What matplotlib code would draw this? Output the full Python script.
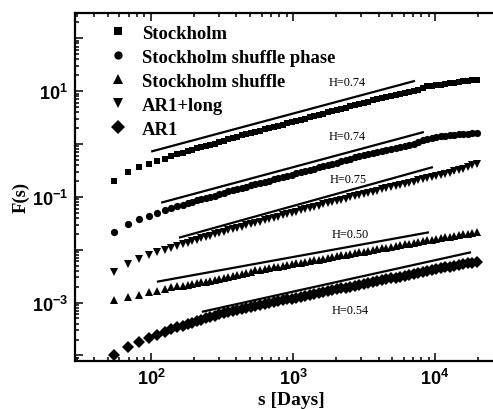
import matplotlib
matplotlib.use("Agg")
import matplotlib.pyplot as plt
from matplotlib.ticker import LogLocator, FuncFormatter, NullFormatter
import numpy as np

# ==== data ====
s_days = [55, 69, 83, 97, 111, 125, 139, 153, 167, 181,
          195, 210, 226, 243, 261, 281, 303, 326, 350, 377,
          406, 437, 470, 505, 544, 585, 630, 678, 729, 785,
          844, 908, 977, 1052, 1131, 1217, 1310, 1410, 1517, 1632,
          1756, 1889, 2033, 2187, 2354, 2532, 2725, 2932, 3155, 3394,
          3652, 3930, 4229, 4550, 4896, 5268, 5668, 6099, 6563, 7061,
          7598, 8175, 8797, 9465, 10185, 10959, 11792, 12688, 13652, 14690,
          15806, 17007, 18300, 19690]

f_stockholm = [0.197, 0.291, 0.362, 0.413, 0.471, 0.525, 0.586, 0.640, 0.682, 0.729,
               0.778, 0.830, 0.887, 0.927, 0.968, 1.012, 1.079, 1.153, 1.230, 1.312,
               1.371, 1.466, 1.531, 1.600, 1.706, 1.782, 1.905, 1.991, 2.080, 2.218,
               2.317, 2.472, 2.582, 2.761, 2.884, 3.013, 3.214, 3.357, 3.589, 3.741,
               3.999, 4.178, 4.365, 4.656, 4.864, 5.200, 5.433, 5.794, 6.053, 6.324,
               6.745, 7.047, 7.362, 7.691, 8.035, 8.395, 8.770, 9.162, 9.572, 10.0,
               10.45, 11.40, 12.45, 12.71, 13.00, 13.27, 13.87, 14.19, 14.49, 14.83,
               15.49, 15.81, 16.18, 16.52]

f_shuffle_phase = [0.0212, 0.0301, 0.0374, 0.0427, 0.0486, 0.0555, 0.0605, 0.0661, 0.0690, 0.0753,
                   0.0804, 0.0859, 0.0897, 0.0938, 0.100, 0.1045, 0.1114, 0.1191, 0.1271, 0.1327,
                   0.1419, 0.1483, 0.1549, 0.1652, 0.1726, 0.1803, 0.1923, 0.2009, 0.2148, 0.2244,
                   0.2344, 0.2500, 0.2612, 0.2786, 0.2911, 0.3041, 0.3251, 0.3396, 0.3622, 0.3784,
                   0.3954, 0.4130, 0.4416, 0.4710, 0.4920, 0.5248, 0.5610, 0.5861, 0.6124, 0.6397,
                   0.6823, 0.7129, 0.7447, 0.7780, 0.8128, 0.8492, 0.8872, 0.9268, 0.9683, 1.012,
                   1.104, 1.205, 1.259, 1.312, 1.343, 1.403, 1.432, 1.466, 1.496, 1.531,
                   1.531, 1.563, 1.600, 1.600]

f_shuffle = [1.140e-3, 1.271e-3, 1.419e-3, 1.581e-3, 1.687e-3, 1.841e-3, 1.968e-3, 2.056e-3, 2.099e-3, 2.193e-3,
             2.291e-3, 2.393e-3, 2.449e-3, 2.500e-3, 2.612e-3, 2.673e-3, 2.786e-3, 2.911e-3, 3.041e-3, 3.177e-3,
             3.319e-3, 3.467e-3, 3.622e-3, 3.873e-3, 4.046e-3, 4.130e-3, 4.315e-3, 4.508e-3, 4.613e-3, 4.808e-3,
             5.023e-3, 5.140e-3, 5.370e-3, 5.610e-3, 5.728e-3, 5.984e-3, 6.124e-3, 6.397e-3, 6.531e-3, 6.823e-3,
             6.982e-3, 7.295e-3, 7.447e-3, 7.780e-3, 7.962e-3, 8.128e-3, 8.492e-3, 8.872e-3, 9.057e-3, 9.462e-3,
             9.683e-3, 1.012e-2, 1.057e-2, 1.079e-2, 1.127e-2, 1.153e-2, 1.205e-2, 1.259e-2, 1.285e-2, 1.343e-2,
             1.371e-2, 1.432e-2, 1.496e-2, 1.531e-2, 1.600e-2, 1.633e-2, 1.706e-2, 1.746e-2, 1.824e-2, 1.862e-2,
             1.945e-2, 1.991e-2, 2.080e-2, 2.123e-2]

f_ar1_long = [3.873e-3, 5.483e-3, 6.683e-3, 7.943e-3, 8.872e-3, 9.886e-3, 1.079e-2, 1.153e-2, 1.259e-2, 1.343e-2,
              1.432e-2, 1.531e-2, 1.633e-2, 1.706e-2, 1.824e-2, 1.945e-2, 2.032e-2, 2.168e-2, 2.317e-2, 2.421e-2,
              2.582e-2, 2.698e-2, 2.884e-2, 3.013e-2, 3.214e-2, 3.357e-2, 3.589e-2, 3.741e-2, 3.999e-2, 4.178e-2,
              4.457e-2, 4.656e-2, 4.977e-2, 5.200e-2, 5.546e-2, 5.794e-2, 6.180e-2, 6.457e-2, 6.745e-2, 7.211e-2,
              7.534e-2, 7.870e-2, 8.395e-2, 8.770e-2, 9.162e-2, 9.795e-2, 0.1021, 0.1067, 0.1140, 0.1191,
              0.1245, 0.1300, 0.1387, 0.1449, 0.1514, 0.1581, 0.1687, 0.1762, 0.1841, 0.1923,
              0.2056, 0.2148, 0.2244, 0.2344, 0.2500, 0.2612, 0.2729, 0.2851, 0.3041, 0.3177,
              0.3319, 0.3622, 0.3954, 0.4227]

f_ar1 = [1.033e-4, 1.466e-4, 1.824e-4, 2.168e-4, 2.472e-4, 2.818e-4, 3.148e-4, 3.436e-4, 3.664e-4, 3.908e-4,
         4.178e-4, 4.457e-4, 4.764e-4, 5.082e-4, 5.433e-4, 5.675e-4, 6.053e-4, 6.324e-4, 6.745e-4, 7.047e-4,
         7.362e-4, 7.691e-4, 8.035e-4, 8.395e-4, 8.770e-4, 9.162e-4, 9.572e-4, 9.795e-4, 1.021e-3, 1.067e-3,
         1.114e-3, 1.164e-3, 1.191e-3, 1.245e-3, 1.300e-3, 1.358e-3, 1.419e-3, 1.483e-3, 1.514e-3, 1.581e-3,
         1.652e-3, 1.726e-3, 1.803e-3, 1.884e-3, 1.923e-3, 2.009e-3, 2.099e-3, 2.193e-3, 2.291e-3, 2.393e-3,
         2.449e-3, 2.559e-3, 2.673e-3, 2.786e-3, 2.911e-3, 2.979e-3, 3.112e-3, 3.251e-3, 3.396e-3, 3.548e-3,
         3.622e-3, 3.784e-3, 3.954e-3, 4.130e-3, 4.315e-3, 4.416e-3, 4.613e-3, 4.808e-3, 5.023e-3, 5.140e-3,
         5.370e-3, 5.610e-3, 5.728e-3, 5.984e-3]

series_labels = ["Stockholm", "Stockholm shuffle phase", "Stockholm shuffle", "AR1+long", "AR1"]
series_markers = ["s", "o", "^", "v", "D"]

# fitted power-law lines: Stockholm, shuffle phase, shuffle, AR1+long, AR1
fit_s_start = [102, 120, 112, 160, 232]
fit_s_end = [7100, 8200, 8900, 9500, 17600]
fit_f_start = [0.73, 0.0787, 2.50e-3, 0.0171, 6.75e-4]
fit_f_end = [15.5, 1.67, 0.0212, 0.362, 8.87e-3]

hurst_labels = ["H=0.74", "H=0.74", "H=0.50", "H=0.75", "H=0.54"]
hurst_s = [2400, 2400, 2520, 2430, 2520]
hurst_f = [14.8, 1.40, 0.0195, 0.215, 7.36e-4]

# ==== style ====
plt.rcParams["font.family"] = "Liberation Sans"
plt.rcParams["font.weight"] = "bold"
plt.rcParams["mathtext.default"] = "regular"
SERIF = "Liberation Serif"

fig = plt.figure(figsize=(4.93, 4.10), dpi=100)
ax = fig.add_axes([75 / 493, 48.3 / 410, 418 / 493, 347.7 / 410])

all_f = [f_stockholm, f_shuffle_phase, f_shuffle, f_ar1_long, f_ar1]
msizes = [5.0, 5.2, 6.0, 6.0, 6.0]
for f, lab, mk, ms in zip(all_f, series_labels, series_markers, msizes):
    ax.plot(s_days, f, linestyle="none", marker=mk, markersize=ms,
            color="black", markeredgewidth=0, label=lab)

for s0, s1, f0, f1 in zip(fit_s_start, fit_s_end, fit_f_start, fit_f_end):
    ax.plot([s0, s1], [f0, f1], color="black", linewidth=1.6)

for txt, xs, yf in zip(hurst_labels, hurst_s, hurst_f):
    ax.text(xs, yf, txt, family=SERIF, fontweight="normal", fontsize=8.8,
            ha="center", va="center")

ax.set_xscale("log")
ax.set_yscale("log")
ax.set_xlim(10 ** 1.465, 10 ** 4.408)
ax.set_ylim(10 ** -4.10, 10 ** 2.48)

ax.xaxis.set_major_locator(LogLocator(base=10, numticks=10))
ax.xaxis.set_minor_locator(LogLocator(base=10, subs=np.arange(2, 10), numticks=20))
ax.xaxis.set_minor_formatter(NullFormatter())
ax.xaxis.set_major_formatter(FuncFormatter(lambda v, p: r"$\mathdefault{10^{%d}}$" % round(np.log10(v))))

ax.yaxis.set_major_locator(LogLocator(base=10, numticks=12))
ax.yaxis.set_minor_locator(LogLocator(base=10, subs=np.arange(2, 10), numticks=20))
ax.yaxis.set_minor_formatter(NullFormatter())


def odd_decades(v, p):
    e = int(round(np.log10(v)))
    return r"$\mathdefault{10^{%d}}$" % e if e % 2 else ""


ax.yaxis.set_major_formatter(FuncFormatter(odd_decades))

ax.tick_params(which="both", direction="in", top=True, right=False, width=1.1)
ax.tick_params(which="major", length=6, labelsize=13, pad=5)
ax.tick_params(which="minor", length=3)
for sp in ["left", "bottom", "top"]:
    ax.spines[sp].set_linewidth(1.6)
ax.spines["right"].set_visible(False)

leg = ax.legend(loc="upper left", bbox_to_anchor=(0.08, 0.966), frameon=False,
                prop={"family": SERIF, "weight": "bold", "size": 13.4},
                handlelength=1.0, handletextpad=0.8, labelspacing=0.37,
                borderpad=0, borderaxespad=0, markerscale=1.15)

fig.text(21 / 493, 1 - 197 / 410, "F(s)", family=SERIF, fontweight="bold",
         fontsize=13.4, rotation=90, ha="center", va="center")
fig.text(291.5 / 493, 5 / 410, "s [Days]", family=SERIF, fontweight="bold",
         fontsize=14, ha="center", va="baseline")

fig.savefig("out.png", dpi=100)
